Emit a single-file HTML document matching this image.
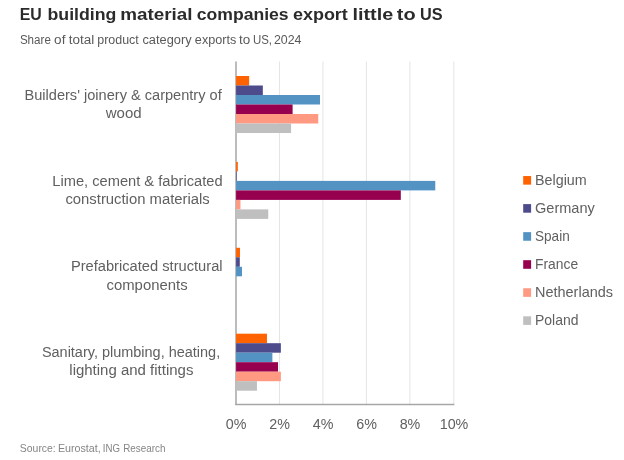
<!DOCTYPE html>
<html lang="en">
<head>
<meta charset="utf-8">
<title>EU building material companies export little to US</title>
<style>
html,body{margin:0;padding:0;background:#fff;}
body{width:624px;height:460px;overflow:hidden;position:relative;font-family:"Liberation Sans",sans-serif;}
h1{position:absolute;left:0;top:0;margin:0;width:604px;height:26px;font-size:17px;line-height:20px;font-weight:bold;color:#2b2b2b;}
h1 svg{position:static;display:block;}
svg text.ttl{font-size:17px;font-weight:bold;fill:#2b2b2b;}
p.sub{position:absolute;left:0;top:28px;margin:0;width:604px;height:24px;font-size:12.5px;line-height:14px;color:#595959;}
p svg{position:static;display:block;}
svg text.subt{font-size:12.5px;fill:#595959;}
p.src{position:absolute;left:0;top:438px;margin:0;width:604px;height:22px;font-size:11px;line-height:13px;color:#808080;}
svg text.srct{font-size:11px;fill:#858585;}
svg{position:absolute;left:0;top:0;}
svg text{font-family:"Liberation Sans",sans-serif;fill:#606060;}
.cat{font-size:15.3px;}
.leg{font-size:15px;}
.ax{font-size:14.3px;text-anchor:middle;}
</style>
</head>
<body>
<h1><svg width="604" height="26" viewBox="0 0 604 26"><text class="ttl" y="19.9"><tspan x="19.76" textLength="22.06" lengthAdjust="spacingAndGlyphs">EU</tspan> <tspan x="47.51" textLength="68.88" lengthAdjust="spacingAndGlyphs">building</tspan> <tspan x="120.29" textLength="72.24" lengthAdjust="spacingAndGlyphs">material</tspan> <tspan x="196.72" textLength="91.89" lengthAdjust="spacingAndGlyphs">companies</tspan> <tspan x="292.92" textLength="54.97" lengthAdjust="spacingAndGlyphs">export</tspan> <tspan x="352.46" textLength="40.71" lengthAdjust="spacingAndGlyphs">little</tspan> <tspan x="396.84" textLength="18.82" lengthAdjust="spacingAndGlyphs">to</tspan> <tspan x="419.97" textLength="22.61" lengthAdjust="spacingAndGlyphs">US</tspan></text></svg></h1>
<p class="sub"><svg width="604" height="24" viewBox="0 28 604 24"><text class="subt" y="44.2"><tspan x="19.88" textLength="30.96" lengthAdjust="spacingAndGlyphs">Share</tspan> <tspan x="54.13" textLength="11.31" lengthAdjust="spacingAndGlyphs">of</tspan> <tspan x="68.65" textLength="25.51" lengthAdjust="spacingAndGlyphs">total</tspan> <tspan x="97.24" textLength="41.54" lengthAdjust="spacingAndGlyphs">product</tspan> <tspan x="142.47" textLength="49.14" lengthAdjust="spacingAndGlyphs">category</tspan> <tspan x="194.87" textLength="41.47" lengthAdjust="spacingAndGlyphs">exports</tspan> <tspan x="239.02" textLength="11.21" lengthAdjust="spacingAndGlyphs">to</tspan> <tspan x="252.91" textLength="19.13" lengthAdjust="spacingAndGlyphs">US,</tspan> <tspan x="273.97" textLength="27.54" lengthAdjust="spacingAndGlyphs">2024</tspan></text></svg></p>
<svg width="624" height="460" viewBox="0 0 624 460">

<g stroke="#E4E4E4" stroke-width="1">
<line x1="279.46" y1="61.5" x2="279.46" y2="404.5"/>
<line x1="322.92" y1="61.5" x2="322.92" y2="404.5"/>
<line x1="366.38" y1="61.5" x2="366.38" y2="404.5"/>
<line x1="409.84" y1="61.5" x2="409.84" y2="404.5"/>
<line x1="453.80" y1="61.5" x2="453.80" y2="404.5"/>
</g>
<g stroke="#A6A6A6" stroke-width="1.5" fill="none">
<line x1="236.00" y1="61.5" x2="236.00" y2="405"/>
<line x1="235.25" y1="404.5" x2="454.30" y2="404.5"/>
</g>
<g shape-rendering="auto">
<rect x="236.10" y="76.00" width="13.04" height="9.50" fill="#FF6200"/>
<rect x="236.10" y="85.50" width="26.73" height="9.50" fill="#4D4B8C"/>
<rect x="236.10" y="95.00" width="83.88" height="9.50" fill="#5293C4"/>
<rect x="236.10" y="104.50" width="56.50" height="9.50" fill="#96004F"/>
<rect x="236.10" y="114.00" width="82.14" height="9.50" fill="#FF9982"/>
<rect x="236.10" y="123.50" width="54.98" height="9.50" fill="#BFBFBF"/>
<rect x="236.10" y="161.90" width="1.74" height="9.50" fill="#FF6200"/>
<rect x="236.10" y="171.40" width="0.65" height="9.50" fill="#4D4B8C"/>
<rect x="236.10" y="180.90" width="199.16" height="9.50" fill="#5293C4"/>
<rect x="236.10" y="190.40" width="164.71" height="9.50" fill="#96004F"/>
<rect x="236.10" y="199.90" width="4.35" height="9.50" fill="#FF9982"/>
<rect x="236.10" y="209.40" width="32.16" height="9.50" fill="#BFBFBF"/>
<rect x="236.10" y="247.80" width="3.91" height="9.50" fill="#FF6200"/>
<rect x="236.10" y="257.30" width="3.69" height="9.50" fill="#4D4B8C"/>
<rect x="236.10" y="266.80" width="5.87" height="9.50" fill="#5293C4"/>
<rect x="236.10" y="333.70" width="30.86" height="9.50" fill="#FF6200"/>
<rect x="236.10" y="343.20" width="44.76" height="9.50" fill="#4D4B8C"/>
<rect x="236.10" y="352.70" width="36.29" height="9.50" fill="#5293C4"/>
<rect x="236.10" y="362.20" width="41.94" height="9.50" fill="#96004F"/>
<rect x="236.10" y="371.70" width="44.76" height="9.50" fill="#FF9982"/>
<rect x="236.10" y="381.20" width="20.86" height="9.50" fill="#BFBFBF"/>
</g>
<text class="cat" x="24.5" y="100.2" textLength="197.2" lengthAdjust="spacingAndGlyphs">Builders' joinery &amp; carpentry of</text>
<text class="cat" x="105.7" y="117.6" textLength="35.9" lengthAdjust="spacingAndGlyphs">wood</text>
<text class="cat" x="52.3" y="186.0" textLength="170.3" lengthAdjust="spacingAndGlyphs">Lime, cement &amp; fabricated</text>
<text class="cat" x="65.4" y="203.6" textLength="144.4" lengthAdjust="spacingAndGlyphs">construction materials</text>
<text class="cat" x="70.9" y="270.8" textLength="151.7" lengthAdjust="spacingAndGlyphs">Prefabricated structural</text>
<text class="cat" x="106.5" y="289.5" textLength="81.1" lengthAdjust="spacingAndGlyphs">components</text>
<text class="cat" x="41.9" y="357.4" textLength="178.3" lengthAdjust="spacingAndGlyphs">Sanitary, plumbing, heating,</text>
<text class="cat" x="69.3" y="374.9" textLength="124.1" lengthAdjust="spacingAndGlyphs">lighting and fittings</text>
<text class="ax" x="236.2" y="429.4">0%</text>
<text class="ax" x="279.7" y="429.4">2%</text>
<text class="ax" x="323.1" y="429.4">4%</text>
<text class="ax" x="366.6" y="429.4">6%</text>
<text class="ax" x="410.0" y="429.4">8%</text>
<text class="ax" x="454.0" y="429.4">10%</text>
<rect x="523.2" y="176.05" width="7.9" height="8.6" fill="#FF6200"/>
<text class="leg" x="535" y="184.75" textLength="51.7" lengthAdjust="spacingAndGlyphs">Belgium</text>
<rect x="523.2" y="204.10" width="7.9" height="8.6" fill="#4D4B8C"/>
<text class="leg" x="535" y="212.80" textLength="59.8" lengthAdjust="spacingAndGlyphs">Germany</text>
<rect x="523.2" y="232.15" width="7.9" height="8.6" fill="#5293C4"/>
<text class="leg" x="535" y="240.85" textLength="34.7" lengthAdjust="spacingAndGlyphs">Spain</text>
<rect x="523.2" y="260.20" width="7.9" height="8.6" fill="#96004F"/>
<text class="leg" x="535" y="268.90" textLength="43.1" lengthAdjust="spacingAndGlyphs">France</text>
<rect x="523.2" y="288.25" width="7.9" height="8.6" fill="#FF9982"/>
<text class="leg" x="535" y="296.95" textLength="78.0" lengthAdjust="spacingAndGlyphs">Netherlands</text>
<rect x="523.2" y="316.30" width="7.9" height="8.6" fill="#BFBFBF"/>
<text class="leg" x="535" y="325.00" textLength="43.5" lengthAdjust="spacingAndGlyphs">Poland</text>
</svg>
<p class="src"><svg width="604" height="22" viewBox="0 438 604 22"><text class="srct" y="451.9"><tspan x="19.83" textLength="35.94" lengthAdjust="spacingAndGlyphs">Source:</tspan> <tspan x="57.92" textLength="42.77" lengthAdjust="spacingAndGlyphs">Eurostat,</tspan> <tspan x="102.80" textLength="17.18" lengthAdjust="spacingAndGlyphs">ING</tspan> <tspan x="123.19" textLength="42.31" lengthAdjust="spacingAndGlyphs">Research</tspan></text></svg></p>
</body>
</html>
